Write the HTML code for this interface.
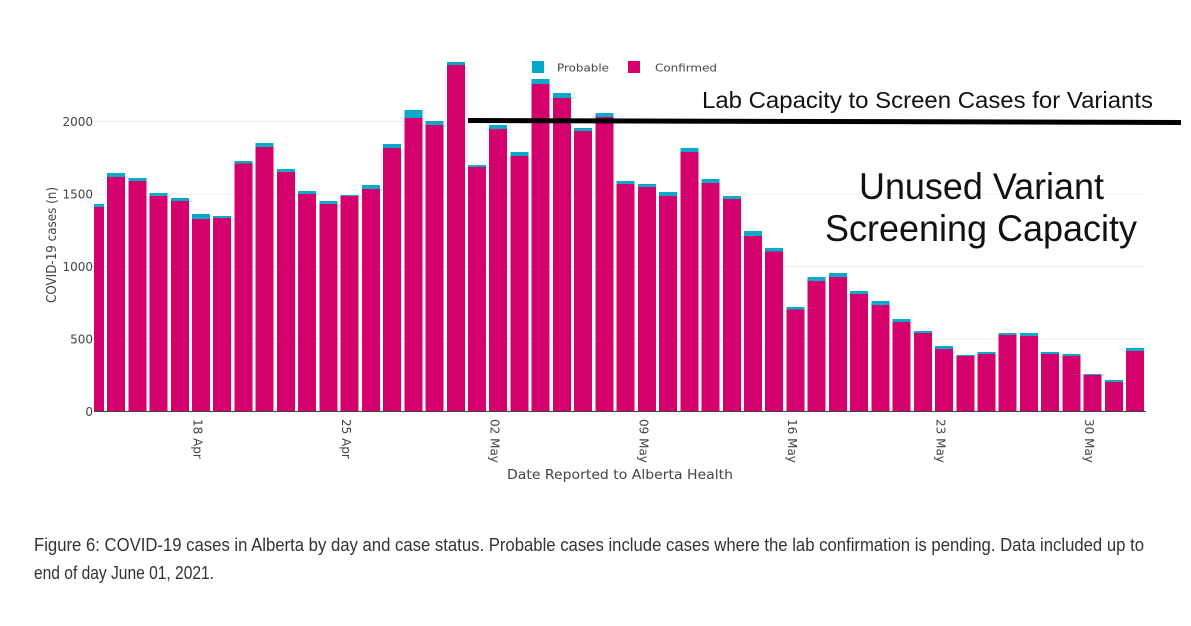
<!DOCTYPE html>
<html lang="en">
<head>
<meta charset="utf-8">
<title>COVID-19 cases in Alberta</title>
<style>
html,body{margin:0;padding:0;background:#fff;width:1191px;height:626px;overflow:hidden}
svg{display:block}
.tick{font-family:"DejaVu Sans",sans-serif;font-size:12px;fill:#444}
.lbl{font-family:"DejaVu Sans",sans-serif;font-size:13px;fill:#444}
.leg{font-family:"DejaVu Sans",sans-serif;font-size:11px;fill:#444}
.note{font-family:"Liberation Sans",sans-serif;fill:#111}
.cap{font-family:"Liberation Sans",sans-serif;font-size:18px;fill:#333}
</style>
</head>
<body>
<svg id="chart" xmlns="http://www.w3.org/2000/svg" width="1191" height="626" viewBox="0 0 1191 626">
  <defs><clipPath id="plot-clip"><rect x="94" y="30" width="1052" height="382"></rect></clipPath></defs>
  <g id="grid"></g>
  <g id="bars" clip-path="url(#plot-clip)"></g>
  <line x1="94" x2="1146" y1="411.5" y2="411.5" stroke="#444" stroke-width="1"></line>
  <g id="yticks"></g>
  <g id="xticks"></g>
  <text class="lbl" transform="translate(56,245) rotate(-90)" text-anchor="middle" textLength="116" lengthAdjust="spacingAndGlyphs">COVID-19 cases (n)</text>
  <text class="lbl" x="507" y="479" textLength="226" lengthAdjust="spacingAndGlyphs">Date Reported to Alberta Health</text>
  <g>
    <rect x="532" y="61" width="12" height="12" fill="#00a9cc"></rect>
    <text class="leg" x="557" y="71.5" textLength="52" lengthAdjust="spacingAndGlyphs">Probable</text>
    <rect x="628" y="61" width="12" height="12" fill="#d4006c"></rect>
    <text class="leg" x="655" y="71.5" textLength="62" lengthAdjust="spacingAndGlyphs">Confirmed</text>
  </g>
  <line x1="468" y1="120.5" x2="1181" y2="122.5" stroke="#000" stroke-width="5"></line>
  <text class="note" x="702" y="108" font-size="23" textLength="451" lengthAdjust="spacingAndGlyphs">Lab Capacity to Screen Cases for Variants</text>
  <text class="note" x="859" y="199" font-size="37" fill="#000" textLength="245" lengthAdjust="spacingAndGlyphs">Unused Variant</text>
  <text class="note" x="825" y="241" font-size="37" fill="#000" textLength="312" lengthAdjust="spacingAndGlyphs">Screening Capacity</text>
  <text class="cap" x="34" y="551" textLength="1110" lengthAdjust="spacingAndGlyphs">Figure 6: COVID-19 cases in Alberta by day and case status. Probable cases include cases where the lab confirmation is pending. Data included up to</text>
  <text class="cap" x="34" y="579" textLength="180" lengthAdjust="spacingAndGlyphs">end of day June 01, 2021.</text>
</svg>
<script>
var dates = ["13 Apr","14 Apr","15 Apr","16 Apr","17 Apr","18 Apr","19 Apr","20 Apr","21 Apr","22 Apr","23 Apr","24 Apr","25 Apr","26 Apr","27 Apr","28 Apr","29 Apr","30 Apr","01 May","02 May","03 May","04 May","05 May","06 May","07 May","08 May","09 May","10 May","11 May","12 May","13 May","14 May","15 May","16 May","17 May","18 May","19 May","20 May","21 May","22 May","23 May","24 May","25 May","26 May","27 May","28 May","29 May","30 May","31 May","01 Jun"];
var confirmed = [1410,1617,1590,1486,1452,1328,1334,1712,1824,1652,1500,1431,1486,1534,1817,2024,1976,2390,1686,1948,1762,2259,2162,1934,2031,1569,1548,1486,1790,1576,1466,1210,1105,705,900,928,810,734,617,541,431,383,397,528,521,397,383,252,203,417];
var probable = [21,28,20,21,20,34,14,15,28,20,21,21,7,28,28,55,27,20,14,28,28,34,35,21,28,21,21,28,27,27,20,35,23,16,28,27,21,28,21,14,21,7,13,13,20,13,14,7,14,21];
var yTickValues = [0,500,1000,1500,2000];
var xTickLabels = ["18 Apr","25 Apr","02 May","09 May","16 May","23 May","30 May"];

var NS = "http://www.w3.org/2000/svg";
var barWidth = 18;
function xScale(i){ return 94.85 + 21.23 * i; }
function yScale(v){ return 411.5 - 0.145 * v; }
function make(tag, attrs){
  var el = document.createElementNS(NS, tag);
  for (var k in attrs) el.setAttribute(k, attrs[k]);
  return el;
}
var gridG = document.getElementById("grid");
var yG = document.getElementById("yticks");
yTickValues.forEach(function(v){
  if (v > 0) {
    var g = make("line", {x1:94, x2:1146, y1:yScale(v), y2:yScale(v), stroke:"#eeeeee", "stroke-width":1});
    
    
    gridG.appendChild(g);
  }
  var t = make("text", {x:93, y:yScale(v)+4.5, "text-anchor":"end", "class":"tick"});
  t.textContent = String(v);
  
  
  yG.appendChild(t);
});
var barsG = document.getElementById("bars");
dates.forEach(function(d, i){
  var left = xScale(i) - barWidth / 2;
  var c = make("rect", {x:left, width:barWidth, y:yScale(confirmed[i]), height:yScale(0)-yScale(confirmed[i]), fill:"#d4006c", "shape-rendering":"crispEdges"});
  
  
  barsG.appendChild(c);
  var total = confirmed[i] + probable[i];
  var p = make("rect", {x:left, width:barWidth, y:yScale(total), height:yScale(confirmed[i])-yScale(total), fill:"#0aa8c9", "shape-rendering":"crispEdges"});
  
  
  barsG.appendChild(p);
});
var xG = document.getElementById("xticks");
xTickLabels.forEach(function(label){
  var i = dates.indexOf(label);
  var t = make("text", {transform:"translate(" + (xScale(i)-7.5) + ",419) rotate(90)", "class":"tick"});
  t.textContent = label;
  
  
  xG.appendChild(t);
});
</script>
</body>
</html>
